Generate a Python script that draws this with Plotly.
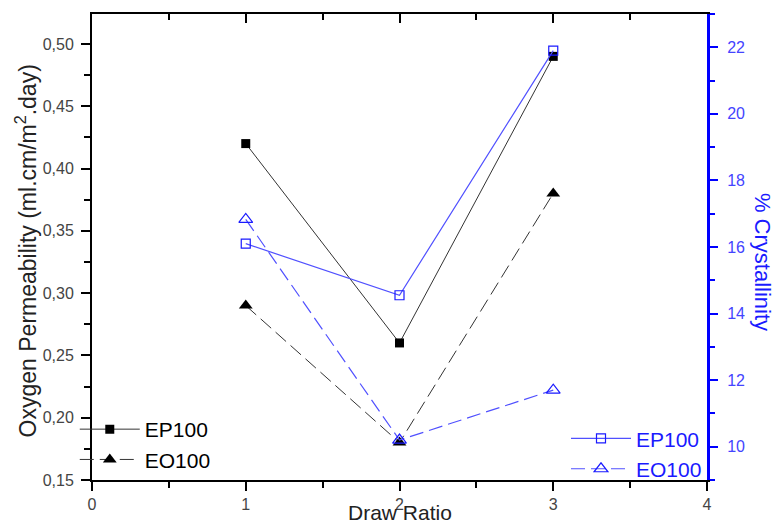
import plotly.graph_objects as go

# Draw ratio and measured values
draw_ratio = [1, 2, 3]
perm_ep100 = [0.42, 0.26, 0.49]
perm_eo100 = [0.29, 0.18, 0.38]
cryst_ep100 = [16.1, 14.55, 21.9]
cryst_eo100 = [16.83, 10.2, 11.7]

left_ticks = [0.15, 0.20, 0.25, 0.30, 0.35, 0.40, 0.45, 0.50]
left_labels = ["0,15", "0,20", "0,25", "0,30", "0,35", "0,40", "0,45", "0,50"]

BLUE = "#1a1aff"
BLUE_LINE = "#5050ff"
BLACK_LINE = "#333333"
FONT = "Liberation Sans, Arial, sans-serif"

fig = go.Figure()

fig.add_trace(go.Scatter(
    x=draw_ratio, y=perm_ep100, name="EP100", mode="lines+markers",
    line=dict(color=BLACK_LINE, width=1),
    marker=dict(symbol="square", size=9, color="black"),
    legend="legend"))
fig.add_trace(go.Scatter(
    x=draw_ratio, y=perm_eo100, name="EO100", mode="lines+markers",
    line=dict(color=BLACK_LINE, width=1, dash="14px,6px"),
    marker=dict(symbol="triangle-up", size=12, color="black"),
    legend="legend"))
fig.add_trace(go.Scatter(
    x=draw_ratio, y=cryst_ep100, name="EP100", mode="lines+markers",
    yaxis="y2",
    line=dict(color=BLUE_LINE, width=1.2),
    marker=dict(symbol="square-open", size=9, color=BLUE, line=dict(width=1.2)),
    legend="legend2"))
fig.add_trace(go.Scatter(
    x=draw_ratio, y=cryst_eo100, name="EO100", mode="lines+markers",
    yaxis="y2",
    line=dict(color=BLUE_LINE, width=1.2, dash="14px,6px"),
    marker=dict(symbol="triangle-up-open", size=12, color=BLUE, line=dict(width=1.2)),
    legend="legend2"))
# carrier for the top frame axis
fig.add_trace(go.Scatter(x=[0, 4], y=[0.15, 0.15], xaxis="x2", mode="none",
                         showlegend=False, hoverinfo="skip"))

fig.update_layout(
    width=774, height=524,
    margin=dict(l=92, r=67, t=14, b=44, autoexpand=False),
    paper_bgcolor="white", plot_bgcolor="white",
    font=dict(family=FONT, size=16, color="#444444"),
    xaxis=dict(
        range=[0, 4], tickvals=[0, 1, 2, 3, 4], showgrid=False, zeroline=False,
        automargin=False,
        showline=True, linecolor="black", linewidth=2,
        ticks="outside", ticklen=9, tickwidth=2, tickcolor="black",
        minor=dict(dtick=0.5, ticks="outside", ticklen=6, tickwidth=2, tickcolor="black"),
        tickfont=dict(size=16, color="#444444"), ticklabelstandoff=0,
    ),
    xaxis2=dict(
        range=[0, 4], overlaying="x", side="top", tickvals=[0, 1, 2, 3, 4],
        showgrid=False, zeroline=False, showticklabels=False, automargin=False,
        showline=True, linecolor="black", linewidth=2,
        ticks="inside", ticklen=9, tickwidth=2, tickcolor="black",
        minor=dict(dtick=0.5, ticks="inside", ticklen=6, tickwidth=2, tickcolor="black"),
    ),
    yaxis=dict(
        range=[0.15, 0.524], tickvals=left_ticks, ticktext=left_labels,
        showgrid=False, zeroline=False, automargin=False,
        showline=True, linecolor="black", linewidth=2,
        ticks="outside", ticklen=9, tickwidth=2, tickcolor="black",
        minor=dict(dtick=0.025, tick0=0.15, ticks="outside", ticklen=6,
                   tickwidth=2, tickcolor="black"),
        tickfont=dict(size=16, color="#444444"), ticklabelstandoff=4,
    ),
    yaxis2=dict(
        range=[9, 23], overlaying="y", side="right", tickvals=[10, 12, 14, 16, 18, 20, 22],
        showgrid=False, zeroline=False, automargin=False,
        showline=True, linecolor="#0000ff", linewidth=3,
        ticks="outside", ticklen=8, tickwidth=2, tickcolor="#0000ff",
        minor=dict(dtick=1, tick0=9, ticks="outside", ticklen=5, tickwidth=2,
                   tickcolor="#0000ff"),
        tickfont=dict(size=16, color="#4444ff"), ticklabelstandoff=6,
    ),
    annotations=[
        dict(text="Oxygen Permeability (ml.cm/m<sup>2</sup>.day)", textangle=-90,
             showarrow=False, xref="paper", yref="paper", x=-0.107, y=0.491,
             xanchor="center", yanchor="middle",
             font=dict(size=23, color="#222222")),
        dict(text="% Crystallinity", textangle=90, showarrow=False,
             xref="paper", yref="paper", x=1.0894, y=0.468,
             xanchor="center", yanchor="middle",
             font=dict(size=22, color=BLUE)),
        dict(text="Draw Ratio", showarrow=False,
             xref="paper", yref="paper", x=0.5, y=-0.0708,
             xanchor="center", yanchor="middle",
             font=dict(size=21, color="#222222")),
    ],
    legend=dict(
        x=-0.028, y=0.0, xanchor="left", yanchor="bottom",
        bgcolor="rgba(0,0,0,0)", font=dict(size=21, color="black"),
        itemwidth=60, tracegroupgap=0, traceorder="normal",
    ),
    legend2=dict(
        x=1.0, y=-0.02, xanchor="right", yanchor="bottom",
        bgcolor="rgba(0,0,0,0)", font=dict(size=21, color=BLUE),
        itemwidth=60, tracegroupgap=0, traceorder="normal",
    ),
)

fig.write_html("out.html")
